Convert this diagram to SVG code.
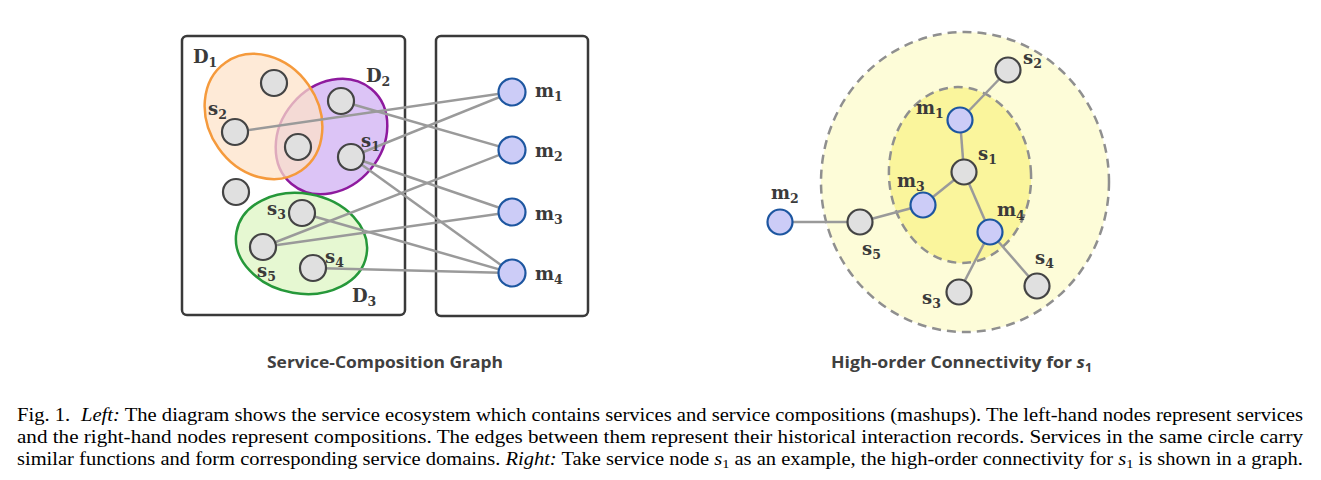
<svg xmlns="http://www.w3.org/2000/svg" width="1321" height="480" viewBox="0 0 1321 480">
<style>
.box{fill:#fff;stroke:#3a3a3a;stroke-width:2.5}
.edge{stroke:#9a9a9a;stroke-width:2.5;fill:none}
.sn{fill:#e0e0e0;stroke:#444;stroke-width:2.2}
.mn{fill:#ccccf7;stroke:#1d56a0;stroke-width:2.2}
.lbl{font-family:"DejaVu Serif","Liberation Serif",serif;font-weight:bold;font-size:18px;fill:#3a3a3a}
.sub{font-size:12.5px}
.title{font-family:"Open Sans","Liberation Sans",sans-serif;font-weight:bold;font-size:16.5px;fill:#404040}
.cap{font-family:"Liberation Serif","Times New Roman",serif;font-size:18.6px;fill:#000}
.it{font-style:italic}
.csub{font-size:13px}
</style>
<rect width="1321" height="480" fill="#fff"/>

<g id="left-diagram">
  <rect class="box" x="182" y="36" width="223" height="279" rx="5"/>
  <rect class="box" x="436" y="36" width="152" height="280" rx="5"/>
  <g id="D2">
    <ellipse cx="331.5" cy="136.5" rx="51" ry="62" transform="rotate(40 331.5 136.5)" fill="#dcc4f6" stroke="#8e1a9e" stroke-width="2.5"/>
    <text class="lbl" x="366" y="82">D<tspan class="sub" dy="4">2</tspan></text>
  </g>
  <g id="D1">
    <ellipse cx="263.5" cy="116.5" rx="55" ry="66" transform="rotate(-35 263.5 116.5)" fill="#fde2c8" fill-opacity="0.72" stroke="#f59a3c" stroke-width="2.5"/>
    <text class="lbl" x="193" y="63">D<tspan class="sub" dy="4">1</tspan></text>
  </g>
  <g id="D3">
    <ellipse cx="301.5" cy="243.5" rx="66" ry="50" transform="rotate(10 301.5 243.5)" fill="#e6f8d2" stroke="#26983a" stroke-width="2.5"/>
    <text class="lbl" x="352" y="302">D<tspan class="sub" dy="4">3</tspan></text>
  </g>
  <g id="left-edges">
    <line class="edge" x1="235" y1="132" x2="512" y2="92"/>
    <line class="edge" x1="341" y1="101" x2="512" y2="150"/>
    <line class="edge" x1="351" y1="157" x2="512" y2="92"/>
    <line class="edge" x1="351" y1="157" x2="512" y2="212"/>
    <line class="edge" x1="351" y1="157" x2="512" y2="273"/>
    <line class="edge" x1="263" y1="247" x2="512" y2="150"/>
    <line class="edge" x1="263" y1="247" x2="512" y2="212"/>
    <line class="edge" x1="302" y1="213" x2="512" y2="273"/>
    <line class="edge" x1="313" y1="268" x2="512" y2="273"/>
  </g>
  <g id="L-n1"><circle class="sn" cx="274" cy="83" r="13"/></g>
  <g id="L-s2"><circle class="sn" cx="235" cy="132" r="13"/><text class="lbl" x="208" y="115">s<tspan class="sub" dy="4">2</tspan></text></g>
  <g id="L-n2"><circle class="sn" cx="298" cy="147" r="13"/></g>
  <g id="L-n3"><circle class="sn" cx="341" cy="101" r="13"/></g>
  <g id="L-s1"><circle class="sn" cx="351" cy="157" r="13"/><text class="lbl" x="361" y="147">s<tspan class="sub" dy="4">1</tspan></text></g>
  <g id="L-n4"><circle class="sn" cx="236" cy="192" r="13"/></g>
  <g id="L-s3"><circle class="sn" cx="302" cy="213" r="13"/><text class="lbl" x="267" y="215">s<tspan class="sub" dy="4">3</tspan></text></g>
  <g id="L-s5"><circle class="sn" cx="263" cy="247" r="13"/><text class="lbl" x="257" y="277">s<tspan class="sub" dy="4">5</tspan></text></g>
  <g id="L-s4"><circle class="sn" cx="313" cy="268" r="13"/><text class="lbl" x="325" y="263">s<tspan class="sub" dy="4">4</tspan></text></g>
  <g id="L-m1"><circle class="mn" cx="512" cy="92" r="13.5"/><text class="lbl" x="535" y="97">m<tspan class="sub" dy="4">1</tspan></text></g>
  <g id="L-m2"><circle class="mn" cx="512" cy="150" r="13.5"/><text class="lbl" x="535" y="157">m<tspan class="sub" dy="4">2</tspan></text></g>
  <g id="L-m3"><circle class="mn" cx="512" cy="212" r="13.5"/><text class="lbl" x="535" y="220">m<tspan class="sub" dy="4">3</tspan></text></g>
  <g id="L-m4"><circle class="mn" cx="512" cy="273" r="13.5"/><text class="lbl" x="535" y="280">m<tspan class="sub" dy="4">4</tspan></text></g>
  <text class="title" x="267" y="368" textLength="236" lengthAdjust="spacingAndGlyphs">Service-Composition Graph</text>
</g>

<g id="right-diagram">
  <ellipse cx="965" cy="182" rx="144" ry="150" fill="#fdfcd8" stroke="#8f8f8f" stroke-width="2.5" stroke-dasharray="9 6"/>
  <ellipse cx="960" cy="175" rx="71" ry="88" transform="rotate(-4 960 175)" fill="#faf59c" stroke="#8f8f8f" stroke-width="2.5" stroke-dasharray="9 6"/>
  <g id="right-edges">
    <line class="edge" x1="1008" y1="70" x2="960" y2="120"/>
    <line class="edge" x1="960" y1="120" x2="964" y2="172"/>
    <line class="edge" x1="964" y1="172" x2="923" y2="205"/>
    <line class="edge" x1="964" y1="172" x2="990" y2="232"/>
    <line class="edge" x1="923" y1="205" x2="860" y2="222"/>
    <line class="edge" x1="860" y1="222" x2="780" y2="222"/>
    <line class="edge" x1="990" y1="232" x2="959" y2="292"/>
    <line class="edge" x1="990" y1="232" x2="1037" y2="286"/>
  </g>
  <g id="R-s2"><circle class="sn" cx="1008" cy="70" r="12.5"/><text class="lbl" x="1023" y="64">s<tspan class="sub" dy="4">2</tspan></text></g>
  <g id="R-m1"><circle class="mn" cx="960" cy="120" r="12.5"/><text class="lbl" x="916" y="114">m<tspan class="sub" dy="4">1</tspan></text></g>
  <g id="R-s1"><circle class="sn" cx="964" cy="172" r="12.5"/><text class="lbl" x="978" y="160">s<tspan class="sub" dy="4">1</tspan></text></g>
  <g id="R-m3"><circle class="mn" cx="923" cy="205" r="12.5"/><text class="lbl" x="897" y="187">m<tspan class="sub" dy="4">3</tspan></text></g>
  <g id="R-m4"><circle class="mn" cx="990" cy="232" r="12.5"/><text class="lbl" x="997" y="216">m<tspan class="sub" dy="4">4</tspan></text></g>
  <g id="R-s5"><circle class="sn" cx="860" cy="222" r="12.5"/><text class="lbl" x="862" y="255">s<tspan class="sub" dy="4">5</tspan></text></g>
  <g id="R-m2"><circle class="mn" cx="780" cy="222" r="12.5"/><text class="lbl" x="771" y="199">m<tspan class="sub" dy="4">2</tspan></text></g>
  <g id="R-s3"><circle class="sn" cx="959" cy="292" r="12.5"/><text class="lbl" x="922" y="304">s<tspan class="sub" dy="4">3</tspan></text></g>
  <g id="R-s4"><circle class="sn" cx="1037" cy="286" r="12.5"/><text class="lbl" x="1035" y="264">s<tspan class="sub" dy="4">4</tspan></text></g>
  <text class="title" x="831" y="368" textLength="261" lengthAdjust="spacingAndGlyphs">High-order Connectivity for <tspan class="it">s</tspan><tspan font-size="11.5" dy="4">1</tspan></text>
</g>

<g id="caption">
  <text class="cap" x="17" y="421" textLength="1286" lengthAdjust="spacingAndGlyphs">Fig. 1.<tspan dx="5">  </tspan><tspan class="it">Left:</tspan> The diagram shows the service ecosystem which contains services and service compositions (mashups). The left-hand nodes represent services</text>
  <text class="cap" x="17" y="443" textLength="1286" lengthAdjust="spacingAndGlyphs">and the right-hand nodes represent compositions. The edges between them represent their historical interaction records. Services in the same circle carry</text>
  <text class="cap" x="17" y="465" textLength="1286" lengthAdjust="spacingAndGlyphs">similar functions and form corresponding service domains. <tspan class="it">Right:</tspan> Take service node <tspan class="it">s</tspan><tspan class="csub" dy="3">1</tspan><tspan dy="-3"> as an example, the high-order connectivity for </tspan><tspan class="it">s</tspan><tspan class="csub" dy="3">1</tspan><tspan dy="-3"> is shown in a graph.</tspan></text>
</g>
</svg>
